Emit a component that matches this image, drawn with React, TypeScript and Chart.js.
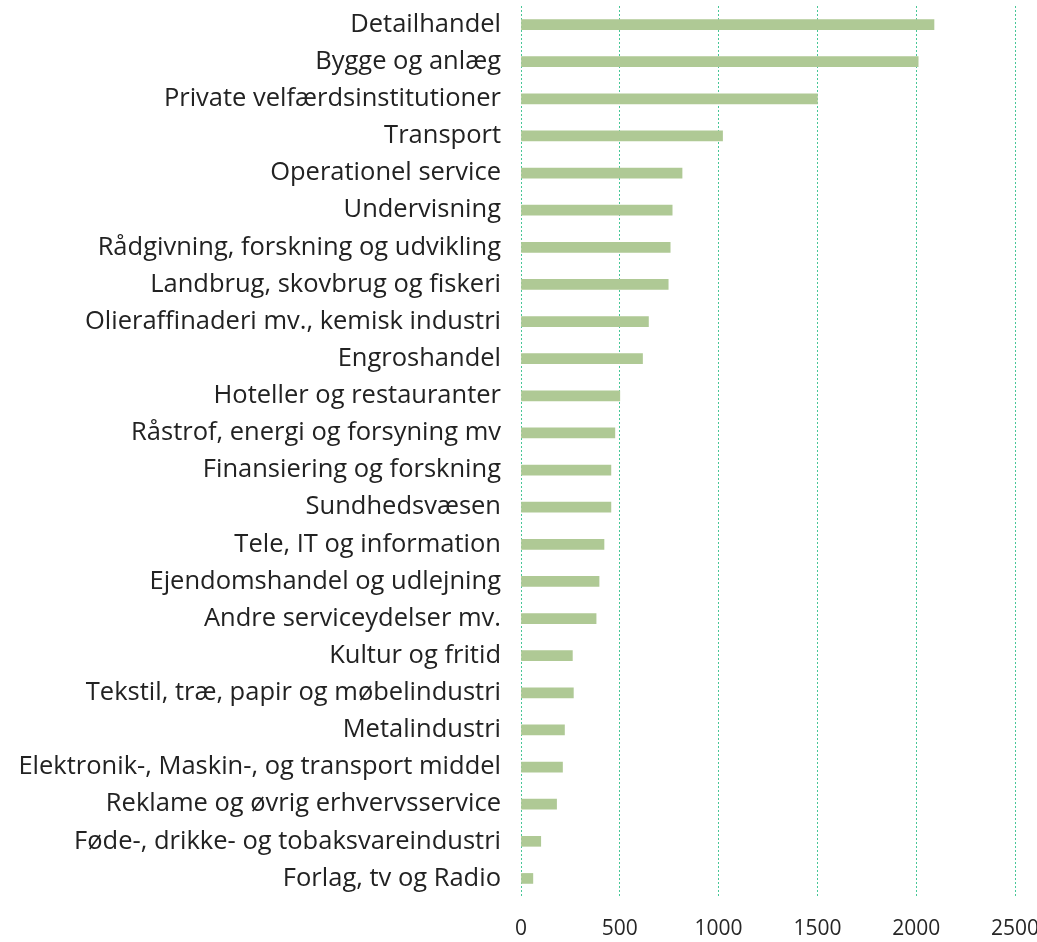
import React, { useEffect, useRef } from 'react';
import { Chart, registerables } from 'chart.js';

Chart.register(...registerables);

const categories = [
  'Detailhandel',
  'Bygge og anlæg',
  'Private velfærdsinstitutioner',
  'Transport',
  'Operationel service',
  'Undervisning',
  'Rådgivning, forskning og udvikling',
  'Landbrug, skovbrug og fiskeri',
  'Olieraffinaderi mv., kemisk industri',
  'Engroshandel',
  'Hoteller og restauranter',
  'Råstrof, energi og forsyning mv',
  'Finansiering og forskning',
  'Sundhedsvæsen',
  'Tele, IT og information',
  'Ejendomshandel og udlejning',
  'Andre serviceydelser mv.',
  'Kultur og fritid',
  'Tekstil, træ, papir og møbelindustri',
  'Metalindustri',
  'Elektronik-, Maskin-, og transport middel',
  'Reklame og øvrig erhvervsservice',
  'Føde-, drikke- og tobaksvareindustri',
  'Forlag, tv og Radio',
];

const values = [
  2090, 2010, 1500, 1020, 815, 765, 755, 745, 645, 615, 500, 475, 455, 455,
  420, 395, 380, 260, 265, 220, 210, 180, 100, 60,
];

const xTicks = [0, 500, 1000, 1500, 2000, 2500];

export default function App() {
  const ref = useRef<HTMLCanvasElement>(null);

  useEffect(() => {
    const chart = new Chart(ref.current as HTMLCanvasElement, {
      type: 'bar',
      data: {
        labels: categories,
        datasets: [
          {
            data: values,
            backgroundColor: '#afc995',
            borderWidth: 0,
            barThickness: 10,
          },
        ],
      },
      options: {
        indexAxis: 'y',
        animation: false,
        responsive: false,
        maintainAspectRatio: false,
        layout: { padding: { top: 6, bottom: 0, left: 0, right: 0 } },
        plugins: {
          legend: { display: false },
          tooltip: { enabled: false },
          title: { display: false },
        },
        scales: {
          x: {
            min: 0,
            max: 2500,
            afterBuildTicks: (s: any) => {
              s.ticks = xTicks.map((v) => ({ value: v }));
            },
            afterFit: (s: any) => {
              s.paddingLeft = 0;
              s.paddingRight = 22;
              s.height = 45;
            },
            grid: {
              color: '#47c797',
              lineWidth: 1,
              drawTicks: false,
            },
            border: { display: false, dash: [2, 2] },
            ticks: {
              padding: 19,
              color: '#262626',
              font: { family: 'Open Sans', size: 21 },
              callback: (v: any) => String(v),
            },
          },
          y: {
            afterFit: (s: any) => {
              s.width = 521;
              s.paddingTop = 0;
              s.paddingBottom = 0;
            },
            grid: { display: false, drawTicks: false },
            border: { display: false },
            ticks: {
              padding: 20,
              autoSkip: false,
              color: '#222222',
              font: { family: 'Open Sans', size: 25.5 },
            },
          },
        },
      },
    });
    return () => chart.destroy();
  }, []);

  return (
    <div
      style={{
        position: 'absolute',
        left: 0,
        top: 0,
        width: 1037,
        height: 942,
        overflow: 'hidden',
        background: '#ffffff',
      }}
    >
      <canvas ref={ref} width={1037} height={942} style={{ display: 'block' }} />
    </div>
  );
}
